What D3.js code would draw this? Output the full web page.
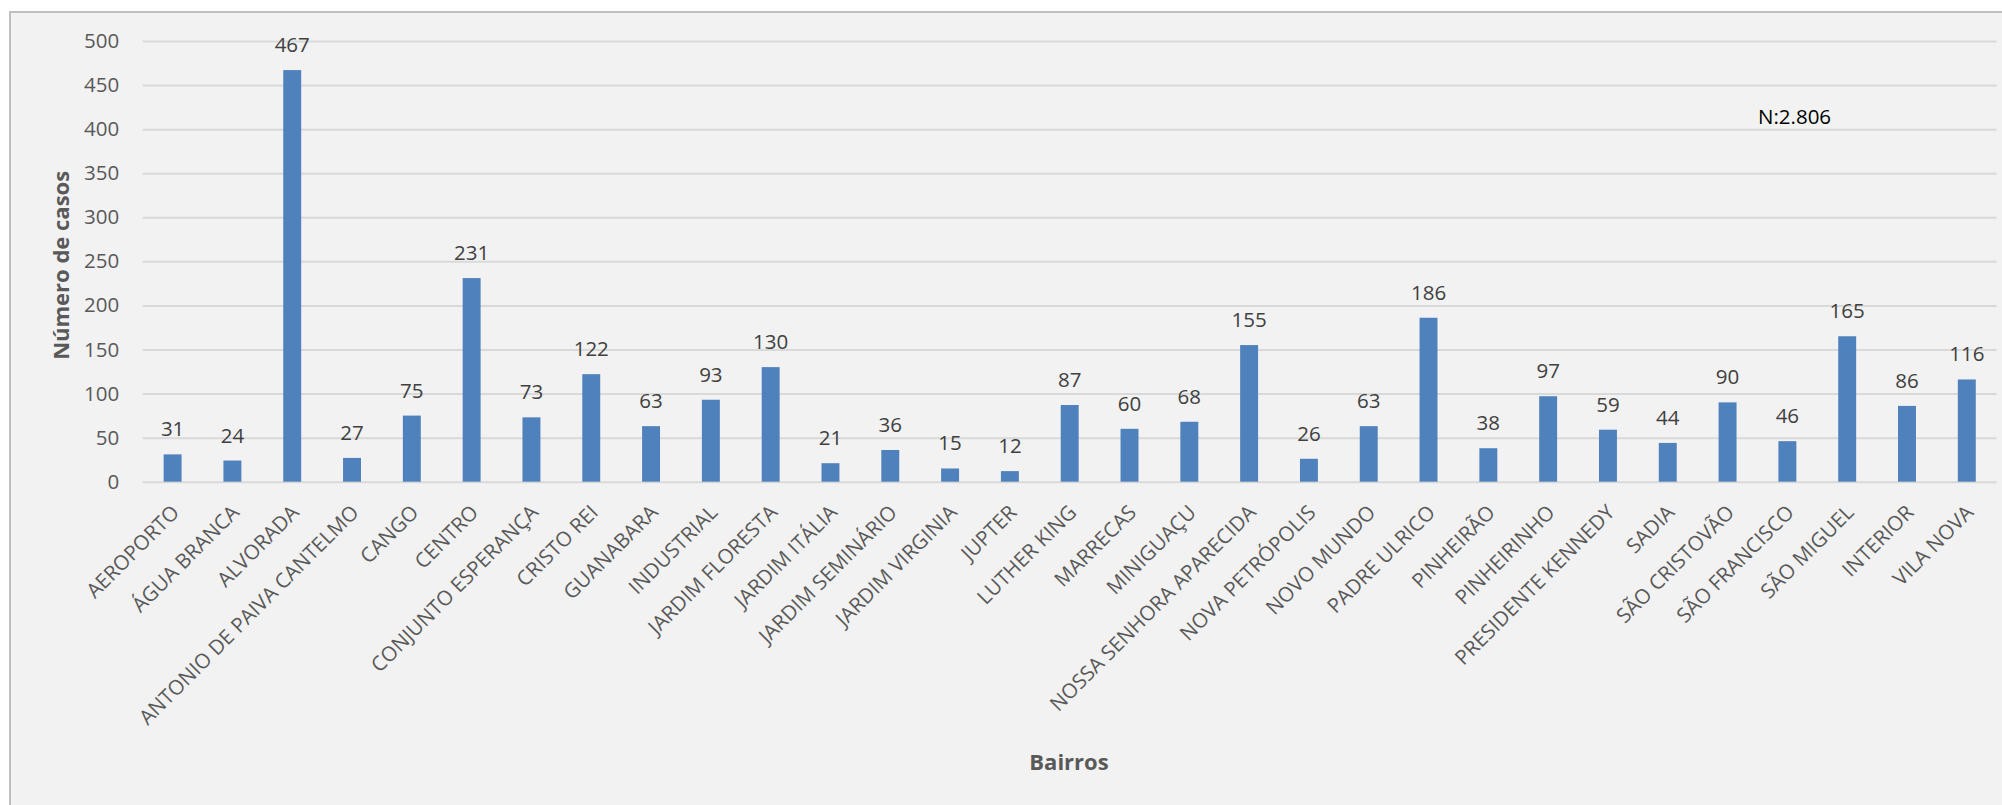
<!DOCTYPE html>
<html lang="pt">
<head>
    <meta charset="UTF-8">
    <title>Número de casos por bairro</title>
    <script src="https://cdnjs.cloudflare.com/ajax/libs/d3/7.8.5/d3.min.js"></script>
    <style>
        html, body { margin: 0; padding: 0; background: #ffffff; }
        svg { display: block; font-family: "Open Sans", "Noto Sans", sans-serif; }
    </style>
</head>
<body>
    <div id="chart"></div>

    <script>
    // Bairros e número de casos
    const bairros = [
        "AEROPORTO", "ÁGUA BRANCA", "ALVORADA", "ANTONIO DE PAIVA CANTELMO", "CANGO",
        "CENTRO", "CONJUNTO ESPERANÇA", "CRISTO REI", "GUANABARA", "INDUSTRIAL",
        "JARDIM FLORESTA", "JARDIM ITÁLIA", "JARDIM SEMINÁRIO", "JARDIM VIRGINIA", "JUPTER",
        "LUTHER KING", "MARRECAS", "MINIGUAÇU", "NOSSA SENHORA APARECIDA", "NOVA PETRÓPOLIS",
        "NOVO MUNDO", "PADRE ULRICO", "PINHEIRÃO", "PINHEIRINHO", "PRESIDENTE KENNEDY",
        "SADIA", "SÃO CRISTOVÃO", "SÃO FRANCISCO", "SÃO MIGUEL", "INTERIOR", "VILA NOVA"
    ];
    const casos = [
        31, 24, 467, 27, 75,
        231, 73, 122, 63, 93,
        130, 21, 36, 15, 12,
        87, 60, 68, 155, 26,
        63, 186, 38, 97, 59,
        44, 90, 46, 165, 86, 116
    ];
    const yTicks = [0, 50, 100, 150, 200, 250, 300, 350, 400, 450, 500];
    const yTitle = "Número de casos";
    const xTitle = "Bairros";
    const nota = "N:2.806";

    const W = 2002, H = 805;
    const plot = {left: 142.7, right: 1996.7, top: 41, bottom: 481.7};

    const data = bairros.map((b, i) => ({bairro: b, casos: casos[i]}));

    const svg = d3.select("#chart")
        .append("svg")
        .attr("width", W)
        .attr("height", H);

    // chart area background + border
    svg.append("rect")
        .attr("x", 10).attr("y", 12)
        .attr("width", W + 10).attr("height", H + 10)
        .attr("fill", "#f2f2f2")
        .attr("stroke", "#bfbfbf")
        .attr("stroke-width", 2);

    const x = d3.scaleBand()
        .domain(bairros)
        .range([plot.left, plot.right])
        .paddingInner(0.7)
        .paddingOuter(0.35);

    const y = d3.scaleLinear()
        .domain([0, 500])
        .range([plot.bottom, plot.top]);

    // y axis with gridlines
    const yAxis = svg.append("g")
        .attr("transform", `translate(${plot.left},0)`)
        .call(d3.axisLeft(y)
            .tickValues(yTicks)
            .tickSize(-(plot.right - plot.left))
            .tickPadding(23.5));
    yAxis.select(".domain").remove();
    yAxis.selectAll(".tick line")
        .attr("stroke", "#d9d9d9")
        .attr("stroke-width", 2);
    yAxis.selectAll(".tick text")
        .attr("fill", "#595959")
        .attr("font-size", "20.5px")
        .attr("font-family", "'Open Sans', sans-serif");

    // bars
    svg.append("g")
        .selectAll("rect")
        .data(data)
        .join("rect")
        .attr("x", d => x(d.bairro))
        .attr("y", d => y(d.casos))
        .attr("width", x.bandwidth())
        .attr("height", d => y(0) - y(d.casos))
        .attr("fill", "#4f81bd");

    // data labels
    svg.append("g")
        .selectAll("text")
        .data(data)
        .join("text")
        .attr("x", d => x(d.bairro) + x.bandwidth() / 2)
        .attr("y", d => y(d.casos) - 18)
        .attr("text-anchor", "middle")
        .attr("fill", "#404040")
        .attr("font-size", "20.5px")
        .text(d => d.casos);

    // x axis (category labels rotated)
    const xAxis = svg.append("g")
        .attr("transform", `translate(0,${plot.bottom})`)
        .call(d3.axisBottom(x).tickSize(0));
    xAxis.select(".domain").remove();
    xAxis.selectAll(".tick text")
        .attr("fill", "#595959")
        .attr("font-size", "20.5px")
        .attr("font-family", "'Open Sans', sans-serif")
        .attr("text-anchor", "end")
        .attr("y", 0)
        .attr("dy", 0)
        .attr("transform", "translate(8,32) rotate(-45)");

    // axis titles
    svg.append("text")
        .attr("transform", `translate(69,${(plot.top + plot.bottom) / 2 + 4}) rotate(-90)`)
        .attr("text-anchor", "middle")
        .attr("fill", "#595959")
        .attr("font-size", "22px")
        .attr("font-weight", "bold")
        .text(yTitle);

    svg.append("text")
        .attr("x", 1069)
        .attr("y", 770)
        .attr("text-anchor", "middle")
        .attr("fill", "#595959")
        .attr("font-size", "22px")
        .attr("font-weight", "bold")
        .text(xTitle);

    // total note
    svg.append("text")
        .attr("x", 1758)
        .attr("y", 124)
        .attr("fill", "#000000")
        .attr("font-size", "20.5px")
        .text(nota);
    </script>
</body>
</html>
